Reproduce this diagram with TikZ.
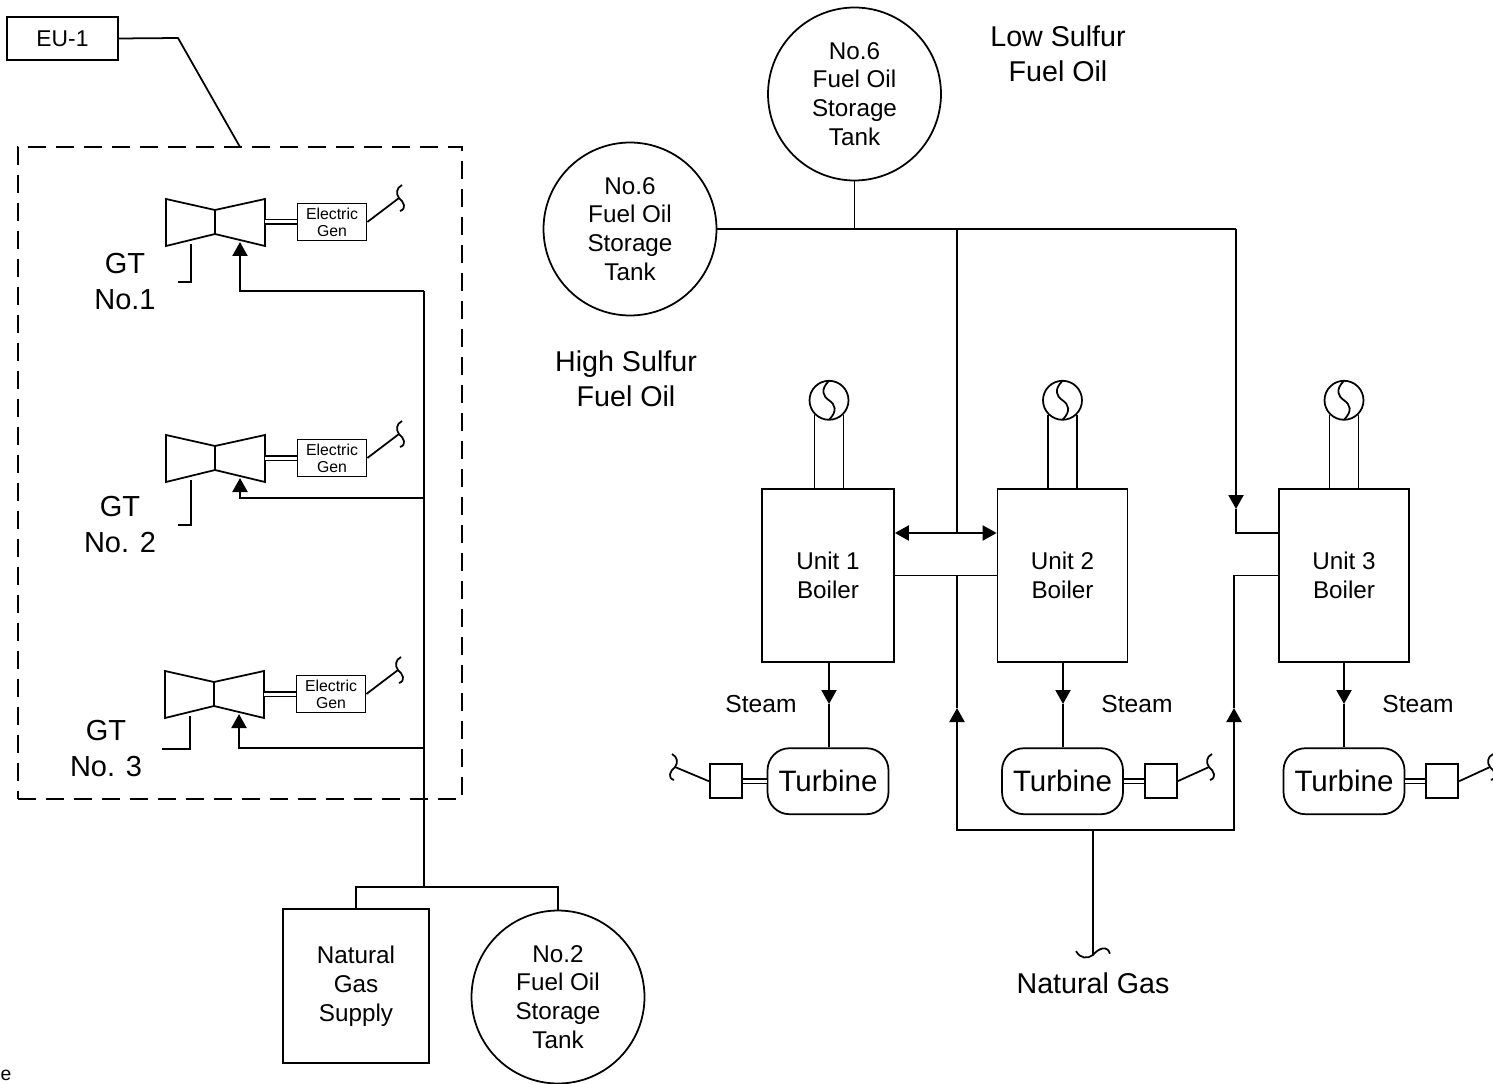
\documentclass[tikz,border=0pt]{standalone}
\usepackage{fontspec}
\setmainfont{Liberation Sans}
\usetikzlibrary{arrows.meta, positioning}

\begin{document}
\begin{tikzpicture}[
    x=0.02cm, y=-0.02cm,
    line width=1pt,
    node distance=1cm,
    boxtext/.style={align=center, font=\fontsize{13.8}{16.4}\selectfont},
    bigtext/.style={align=center, font=\fontsize{16.3}{20}\selectfont},
    eubox/.style={rectangle, draw, minimum width=2.22cm, minimum height=0.86cm, inner sep=0pt, font=\fontsize{13}{15}\selectfont},
    tank/.style={circle, draw, minimum size=3.46cm, inner sep=0pt, boxtext},
    boiler/.style={rectangle, draw, minimum width=2.6cm, minimum height=3.46cm, inner sep=0pt, boxtext},
    turbine/.style={rectangle, draw, rounded corners=0.44cm, minimum width=2.42cm, minimum height=1.32cm, inner sep=0pt, font=\fontsize{16.8}{20}\selectfont},
    gensquare/.style={rectangle, draw, minimum width=0.64cm, minimum height=0.68cm, inner sep=0pt},
    elecgen/.style={rectangle, draw, minimum width=1.38cm, minimum height=0.74cm, inner sep=0pt, align=center, font=\fontsize{9}{9.7}\selectfont},
    fan/.style={circle, draw, minimum size=0.78cm, inner sep=0pt, path picture={
        \draw (path picture bounding box.north) .. controls +(-9,9) and +(-6,-4) .. (path picture bounding box.center)
              .. controls +(6,4) and +(9,-9) .. (path picture bounding box.south);}},
    arrow/.style={-{Triangle[length=0.28cm, width=0.3cm]}, line width=1.2pt},
    bothway/.style={{Triangle[length=0.28cm, width=0.3cm]}-{Triangle[length=0.28cm, width=0.3cm]}, line width=1.2pt},
    shaftline/.style={double, double distance=0.06cm, line width=0.7pt},
    wiggle/.pic={\draw (3,-13) .. controls (-3,-10) and (-3,-4) .. (0,0) .. controls (5,4) and (8,11) .. (1,13);},
    gasturbine/.pic={
        \draw (-49,-23) -- (0,-12) -- (50,-23) -- (50,24) -- (0,12) -- (-49,24) -- cycle (0,-12) -- (0,12);
        \node[elecgen] (-gen) at (117,0) {Electric\\Gen};
        \draw[shaftline] (50,0) -- (-gen.west);
        \draw (-gen.east) -- (184,-24) pic {wiggle};
        \coordinate (-fuel) at (25,20);
        \coordinate (-exhaust) at (-24,22);
    }
]
    \useasboundingbox (0,0) rectangle (1493,1084);

    % Gas turbines
    \node[eubox] (eu) at (62.5,38.5) {EU-1};
    \node[draw, dash pattern=on 0.36cm off 0.2cm, minimum width=8.88cm, minimum height=13.04cm, inner sep=0pt] (gtframe) at (240,473) {};
    \coordinate (euknee) at (178,38);
    \coordinate (eutip) at (240,147);
    \draw (eu.east) -- (euknee) -- (eutip);

    \pic (gt1) at (215,222) {gasturbine};
    \pic (gt2) at (215,458) {gasturbine};
    \pic (gt3) at (214,694) {gasturbine};
    \node[bigtext, font=\fontsize{16.5}{20}\selectfont] (gt1text) at (125,281.5) {GT\\No.1};
    \node[bigtext, font=\fontsize{16.5}{20}\selectfont] (gt2text) at (120,524.5) {GT\\No. 2};
    \node[bigtext, font=\fontsize{16.5}{20}\selectfont] (gt3text) at (106,748.5) {GT\\No. 3};

    \coordinate (gt1stub) at (178,282);
    \coordinate (gt2stub) at (178,525);
    \coordinate (gt3stub) at (162,749);
    \draw (gt1-exhaust) |- (gt1stub);
    \draw (gt2-exhaust) |- (gt2stub);
    \draw (gt3-exhaust) |- (gt3stub);

    % Distillate supply
    \node[rectangle, draw, minimum width=2.92cm, minimum height=3.08cm, inner sep=0pt, boxtext] (gassupply) at (356,986) {Natural\\Gas\\Supply};
    \node[tank] (tankno2) at (558,997) {No.2\\Fuel Oil\\Storage\\Tank};
    \coordinate (gasbus1) at (424,291);
    \coordinate (gasbus2) at (424,498);
    \coordinate (gasbus3) at (424,748);
    \coordinate (fuelbus) at (424,887);
    \draw (gassupply.north) |- (fuelbus) -| (tankno2.north);
    \draw (gasbus1) -- (fuelbus);
    \draw[arrow] (gasbus1) -| (gt1-fuel);
    \draw[arrow] (gasbus2) -| (gt2-fuel);
    \draw[arrow] (gasbus3) -| (gt3-fuel);

    % Boilers
    \node[boiler, minimum width=2.64cm] (boiler1) at (828,575.5) {Unit 1\\Boiler};
    \node[boiler] (boiler2) at (1062.5,575.5) {Unit 2\\Boiler};
    \node[boiler] (boiler3) at (1344,575.5) {Unit 3\\Boiler};

    \node[fan, above=1.35cm of boiler1, xshift=0.02cm] (fan1) {};
    \node[fan, above=1.35cm of boiler2] (fan2) {};
    \node[fan, above=1.35cm of boiler3] (fan3) {};
    \draw (fan1.south west) -- (fan1.south west |- boiler1.north);
    \draw (fan1.south east) -- (fan1.south east |- boiler1.north);
    \draw (fan2.south west) -- (fan2.south west |- boiler2.north);
    \draw (fan2.south east) -- (fan2.south east |- boiler2.north);
    \draw (fan3.south west) -- (fan3.south west |- boiler3.north);
    \draw (fan3.south east) -- (fan3.south east |- boiler3.north);

    % Steam turbines
    \node[turbine, below=1.69cm of boiler1] (turbine1) {Turbine};
    \node[turbine, below=1.69cm of boiler2] (turbine2) {Turbine};
    \node[turbine, below=1.69cm of boiler3] (turbine3) {Turbine};
    \node[gensquare, left=0.48cm of turbine1] (gensq1) {};
    \node[gensquare, right=0.4cm of turbine2] (gensq2) {};
    \node[gensquare, right=0.4cm of turbine3] (gensq3) {};
    \draw[shaftline] (turbine1) -- (gensq1);
    \draw[shaftline] (turbine2) -- (gensq2);
    \draw[shaftline] (turbine3) -- (gensq3);

    \coordinate (wire1) at (675,767);
    \coordinate (wire2) at (1209,767);
    \coordinate (wire3) at (1490,767);
    \draw (gensq1.west) -- (wire1) pic[xscale=-1] {wiggle};
    \draw (gensq2.east) -- (wire2) pic {wiggle};
    \draw (gensq3.east) -- (wire3) pic {wiggle};

    \coordinate (steamtip1) at (829,704);
    \coordinate (steamtip2) at (1063,704);
    \coordinate (steamtip3) at (1344,704);
    \draw[arrow] (boiler1.south -| steamtip1) -- (steamtip1);
    \draw[arrow] (boiler2.south -| steamtip2) -- (steamtip2);
    \draw[arrow] (boiler3.south -| steamtip3) -- (steamtip3);
    \draw (steamtip1) -- (turbine1.north -| steamtip1);
    \draw (steamtip2) -- (turbine2.north -| steamtip2);
    \draw (steamtip3) -- (turbine3.north -| steamtip3);
    \node[font=\fontsize{14}{17}\selectfont] (steam1) at (761,704) {Steam};
    \node[font=\fontsize{14}{17}\selectfont] (steam2) at (1137,704) {Steam};
    \node[font=\fontsize{14}{17}\selectfont] (steam3) at (1418,704) {Steam};

    % Fuel oil
    \node[tank] (tankls) at (854.5,94) {No.6\\Fuel Oil\\Storage\\Tank};
    \node[tank] (tankhs) at (630,229) {No.6\\Fuel Oil\\Storage\\Tank};
    \node[bigtext] (lstext) at (1058,53.5) {Low Sulfur\\Fuel Oil};
    \node[bigtext] (hstext) at (626,378.5) {High Sulfur\\Fuel Oil};

    \coordinate (hdrcorner) at (1236,229);
    \coordinate (hdrjoin) at (957,229);
    \coordinate (steamtie) at (957,533);
    \coordinate (fueltip3) at (1236,509);
    \draw (tankhs.east) -- (hdrcorner);
    \draw (tankls.south) -- (tankls.south |- tankhs.east);
    \draw (hdrjoin) -- (steamtie);
    \draw[bothway] (steamtie -| boiler1.east) -- (steamtie -| boiler2.west);
    \draw (boiler1.east) -- (boiler2.west);
    \draw[arrow] (hdrcorner) -- (fueltip3);
    \draw (fueltip3) |- (steamtie -| boiler3.west);

    % Natural gas
    \coordinate (gasfeed) at (1093,830);
    \coordinate (gastipl) at (957,708);
    \coordinate (gastipr) at (1234,708);
    \coordinate (gasend) at (1093,955);
    \draw[arrow] (gasfeed) -| (gastipl);
    \draw[arrow] (gasfeed) -| (gastipr);
    \draw (gastipl) -- (gastipl |- boiler1.east);
    \draw (gastipr) |- (boiler3.west);
    \draw (gasfeed) -- (gasend) pic[rotate=90, scale=1.3] {wiggle};
    \node[bigtext] (gastext) at (1093,983) {Natural Gas};

    \node[font=\fontsize{11}{13}\selectfont] (cutoff) at (6,1075) {e};
\end{tikzpicture}
\end{document}
